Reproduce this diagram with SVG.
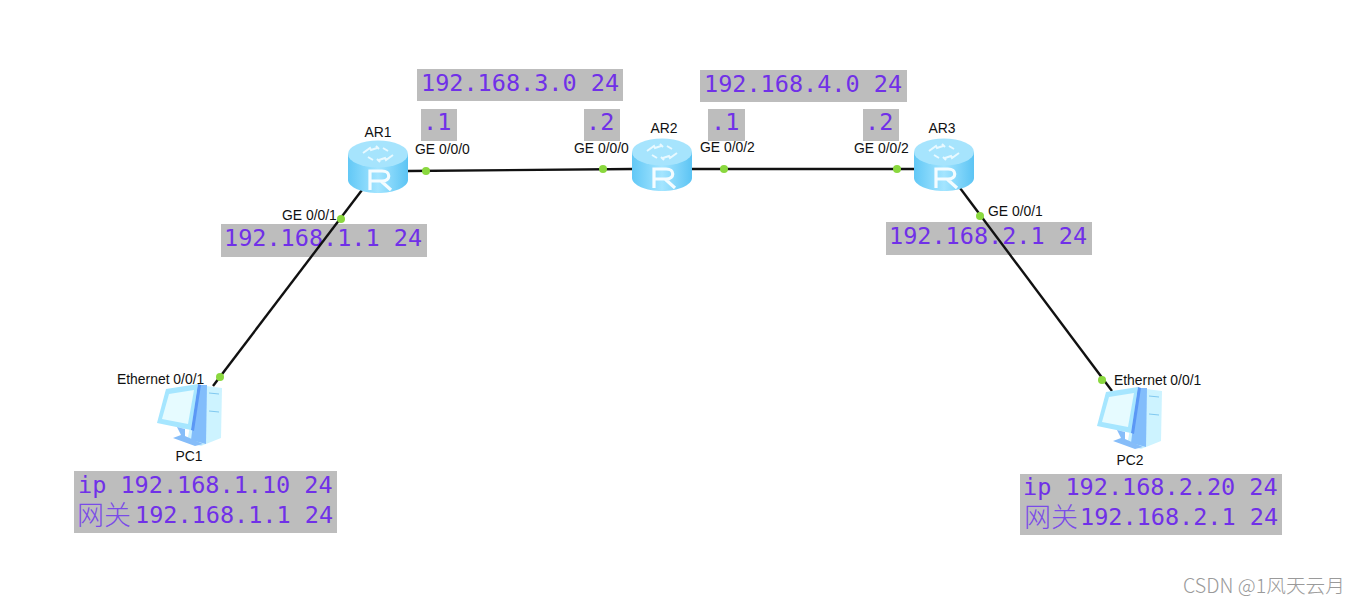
<svg xmlns="http://www.w3.org/2000/svg" xmlns:xlink="http://www.w3.org/1999/xlink" width="1358" height="605" viewBox="0 0 1358 605">
<style>
.lbl{font-family:"Liberation Sans",Arial,sans-serif;font-size:13.9px;fill:#111}
.ip{font-family:"DejaVu Sans Mono","Noto Sans CJK SC",monospace;font-size:23.5px;fill:#7030e8}
.box{fill:#bdbdbd}
.wm{font-family:"Noto Sans CJK SC","Liberation Sans",sans-serif;font-size:19.7px;font-weight:300;fill:#9a9a9a}
.cn{font-family:"DejaVu Sans Mono","Noto Sans CJK SC",sans-serif;font-size:27px;font-weight:300;fill:#7a4be8}
.link{stroke:#111;stroke-width:2.4;fill:none}
.dot{fill:#8ad83e}
</style>
<defs>
<linearGradient id="rt" x1="0" y1="0" x2="1" y2="0"><stop offset="0" stop-color="#62c8f6"/><stop offset="0.5" stop-color="#a4e5ff"/><stop offset="1" stop-color="#5cc4f4"/></linearGradient>
<g id="router">
<path d="M-30 0V26C-30 33-16 39 0 39S30 33 30 26V0Z" fill="url(#rt)"/>
<ellipse cx="0" cy="0" rx="30" ry="13.500" fill="#a6e4fd"/>
<path d="M-15-1l7-5 1 2 6-2M15 1l-7 5-1-2-6 2M-10 3l5 3M10-3l-5-3M-2-8l3 3M2 8l-3-3" stroke="#e8f9ff" stroke-width="2" fill="none"/>
<path d="M-8 36V17H4C13 17 13 27 4 27H-8M3 27L13 36" stroke="#f4fcff" stroke-width="3.200" fill="none"/>
</g>
<g id="pc">
<path d="M41 1L65 4 64 54 44 62 30 58Z" fill="#cdf3ff"/>
<path d="M41 1L50 1 49 60 34 56Z" fill="#82bdfb"/>
<path d="M9 5L41 0 34 46 0 39Z" fill="#a6e6ff"/>
<path d="M12 10L37 6 31 40 5 35Z" fill="#e6fbff"/>
<path d="M41 0L34 46 37 47 44 1Z" fill="#5b98f5"/>
<path d="M20 43L28 45 28 52 46 60 38 62 16 54 24 51Z" fill="#86bdf9"/>
<path d="M52 9L62 10M52 27L62 28" stroke="#7fc8f0" stroke-width="1"/>
</g>
</defs>
<rect width="1358" height="605" fill="#fff"/>
<g id="note-net3"><rect class="box" x="417" y="69" width="206" height="32"/><text class="ip" x="421" y="91">192.168.3.0 24</text></g>
<g id="note-net4"><rect class="box" x="700" y="70" width="207" height="32"/><text class="ip" x="704" y="92">192.168.4.0 24</text></g>
<g id="note-1a"><rect class="box" x="421" y="109" width="36" height="32"/><text class="ip" x="423" y="130">.1</text></g>
<g id="note-2a"><rect class="box" x="584" y="109" width="36" height="32"/><text class="ip" x="586" y="130">.2</text></g>
<g id="note-1b"><rect class="box" x="708" y="109" width="37" height="32"/><text class="ip" x="711" y="130">.1</text></g>
<g id="note-2b"><rect class="box" x="863" y="109" width="36" height="32"/><text class="ip" x="865" y="130">.2</text></g>
<g id="note-r1"><rect class="box" x="221" y="224" width="206" height="33"/><text class="ip" x="224" y="246">192.168.1.1 24</text></g>
<g id="note-r3"><rect class="box" x="886" y="222" width="206" height="33"/><text class="ip" x="889" y="244">192.168.2.1 24</text></g>
<g id="note-pc1"><rect class="box" x="74" y="471" width="263" height="62"/><text class="ip" x="78" y="493">ip 192.168.1.10 24<tspan class="cn" x="77" y="525">网关</tspan><tspan x="135" y="523">192.168.1.1 24</tspan></text></g>
<g id="note-pc2"><rect class="box" x="1020" y="474" width="262" height="61"/><text class="ip" x="1023" y="495">ip 192.168.2.20 24<tspan class="cn" x="1024" y="527">网关</tspan><tspan x="1080" y="525">192.168.2.1 24</tspan></text></g>
<g id="connectors">
<path class="link" d="M408 171L633 169"/>
<path class="link" d="M692 169H914"/>
<path class="link" d="M362 190L213 386"/>
<path class="link" d="M960 188L1112 391"/>
<g id="dots">
<circle class="dot" cx="426" cy="171" r="4"/><circle class="dot" cx="603" cy="169" r="4"/>
<circle class="dot" cx="724" cy="169" r="4"/><circle class="dot" cx="897" cy="169" r="4"/>
<circle class="dot" cx="341" cy="219" r="4"/><circle class="dot" cx="220" cy="377" r="4"/>
<circle class="dot" cx="980" cy="216" r="4"/><circle class="dot" cx="1102" cy="380" r="4"/>
</g>
</g>
<g id="AR1"><use xlink:href="#router" x="378" y="154"/><text class="lbl" x="378" y="137" text-anchor="middle">AR1</text></g>
<g id="AR2"><use xlink:href="#router" x="662" y="152"/><text class="lbl" x="664" y="133" text-anchor="middle">AR2</text></g>
<g id="AR3"><use xlink:href="#router" x="944" y="152"/><text class="lbl" x="942" y="133" text-anchor="middle">AR3</text></g>
<g id="PC1"><use xlink:href="#pc" x="157" y="384"/><text class="lbl" x="189" y="461" text-anchor="middle">PC1</text></g>
<g id="PC2"><use xlink:href="#pc" x="1097" y="387"/><text class="lbl" x="1130" y="465" text-anchor="middle">PC2</text></g>
<g id="port-labels">
<text class="lbl" x="415" y="154">GE 0/0/0</text><text class="lbl" x="574" y="153">GE 0/0/0</text>
<text class="lbl" x="700" y="152">GE 0/0/2</text><text class="lbl" x="854" y="153">GE 0/0/2</text>
<text class="lbl" x="282" y="220">GE 0/0/1</text><text class="lbl" x="988" y="216">GE 0/0/1</text>
<text class="lbl" x="117" y="384">Ethernet 0/0/1</text><text class="lbl" x="1114" y="385">Ethernet 0/0/1</text>
</g>
<text class="wm" x="1183" y="593">CSDN @1风天云月</text>
</svg>
